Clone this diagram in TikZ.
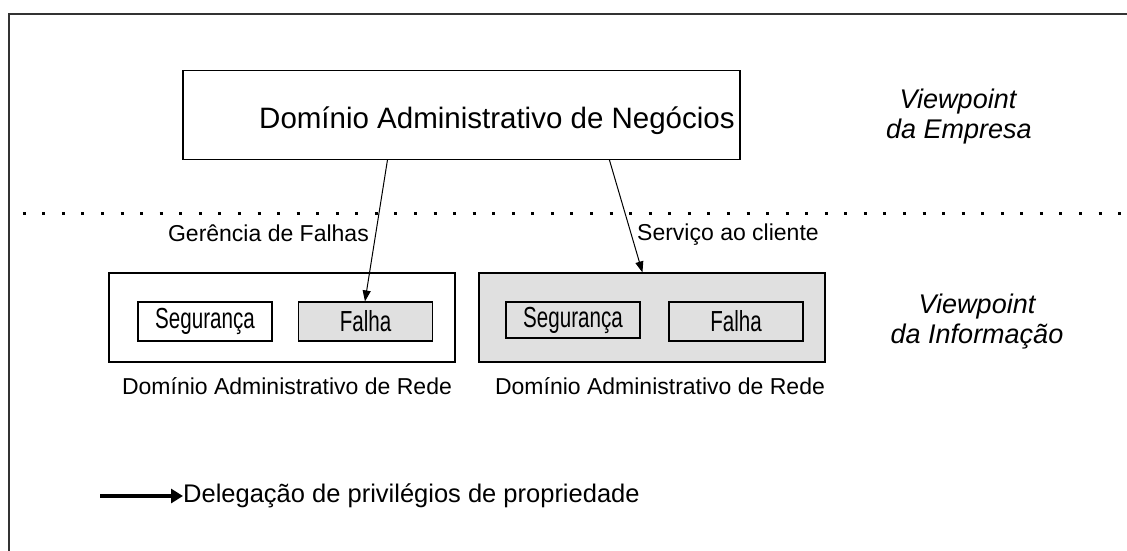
\documentclass[tikz,border=0pt]{standalone}
\usepackage{fontspec}
\setmainfont{Liberation Sans}
\usetikzlibrary{arrows.meta,calc}
\definecolor{frame}{HTML}{333333}
\definecolor{boxgray}{HTML}{E0E0E0}
\begin{document}
\begin{tikzpicture}[x=1pt,y=-1pt,
  box/.style={draw=black, line width=1.1pt, inner sep=0pt},
  lbl/.style={font=\fontsize{23}{27}\selectfont, inner sep=0pt},
  innerbox/.style={draw=black, line width=1.1pt, minimum width=134pt, minimum height=39pt, inner sep=0pt, font=\fontsize{29}{34}\selectfont},
  vp/.style={font=\fontsize{27}{30}\selectfont\itshape, inner sep=0pt, anchor=base},
  arr/.style={-{Triangle[length=11pt,width=8pt]}, line width=1pt},
  legarr/.style={-{Triangle[length=12pt,width=14pt]}, line width=3.2pt}]
\useasboundingbox (0,0) rectangle (1127,550);
% outer frame (left and top edges only visible)
\draw[frame, line width=2pt] (9,551) -- (9,14) -- (1128,14);
% top box
\node[box, minimum width=557pt, minimum height=89pt] (neg) at (461.5,115) {};
\node[anchor=base west, inner sep=0pt, font=\fontsize{29.5}{34}\selectfont] (negt) at (259,128) {Domínio Administrativo de Negócios};
% viewpoint labels
\node[vp] (vpa) at (958,108) {Viewpoint};
\node[vp] (vpb) at (959,138) {da Empresa};
\node[vp] (vpc) at (977,313) {Viewpoint};
\node[vp] (vpd) at (977,343) {da Informação};
% dotted separator
\draw[line width=3pt, dash pattern=on 3pt off 16.56pt] (22.8,213) -- (1127,213);
% domain boxes
\node[box, fill=white, minimum width=346pt, minimum height=89pt] (d1) at (282,317.5) {};
\node[box, fill=boxgray, minimum width=346pt, minimum height=89pt] (d2) at (652,317.5) {};
\node[innerbox, fill=white] (s1) at (205,321.5) {\scalebox{0.71}[1]{Segurança}};
\node[innerbox, fill=boxgray] (f1) at (365.5,321.5) {\scalebox{0.71}[1]{Falha}};
\node[innerbox, fill=boxgray, minimum height=36pt] (s2) at (573,320) {\scalebox{0.71}[1]{Segurança}};
\node[innerbox, fill=boxgray] (f2) at (736,321.5) {\scalebox{0.71}[1]{Falha}};
\node[lbl, anchor=base] (r1) at (287,394) {Domínio Administrativo de Rede};
\node[lbl, anchor=base] (r2) at (660,394) {Domínio Administrativo de Rede};
% arrows
\draw[arr] ($(neg.south west)+(205,0)$) -- ($(f1.north west)+(67,0)$);
\draw[arr] ($(neg.south west)+(427,0)$) -- ($(d2.north west)+(164,0)$);
\node[lbl, anchor=base east] (gf) at (369,241) {Gerência de Falhas};
\node[lbl, anchor=base west] (sc) at (637,240) {Serviço ao cliente};
% legend
\coordinate (l0) at (100,496);
\node[anchor=west, inner sep=0pt, font=\fontsize{25.5}{30}\selectfont] (leg) at (183,496) {Delegação de privilégios de propriedade};
\draw[legarr] (l0) -- (leg.west);
\end{tikzpicture}
\end{document}
